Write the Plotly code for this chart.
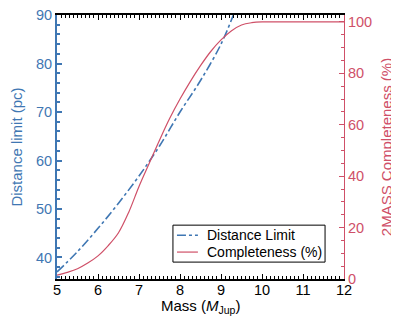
import plotly.graph_objects as go

mass_d = [5.0, 5.5, 6.0, 6.5, 7.0, 7.5, 8.0, 8.5, 9.0, 9.3]
dist = [37.0, 41.2, 46.0, 51.2, 56.8, 63.0, 70.0, 76.5, 84.0, 90.0]

mass_c = [5.0, 5.25, 5.5, 5.75, 6.0, 6.25, 6.5, 6.75, 7.0, 7.25, 7.5, 7.75, 8.0, 8.25, 8.5, 8.75, 9.0, 9.25, 9.5, 9.75, 10.0, 10.5, 11.0, 11.5, 12.0]
comp = [1.5, 2.6, 4.0, 6.2, 9.0, 13.0, 18.0, 26.0, 36.0, 45.0, 54.0, 62.5, 70.0, 76.8, 83.0, 88.5, 93.0, 96.5, 98.8, 99.7, 100.0, 100.0, 100.0, 100.0, 100.0]

names = ["Distance Limit", "Completeness (%)"]

BLUE = "#3f77b3"
RED = "#cf5068"
FONT = "Liberation Sans, Arial, sans-serif"

fig = go.Figure()
fig.add_trace(go.Scatter(x=mass_d, y=dist, mode="lines", name=names[0], showlegend=False,
                         line=dict(color=BLUE, width=1.6, dash="dashdot", shape="spline"), yaxis="y"))
fig.add_trace(go.Scatter(x=mass_c, y=comp, mode="lines", name=names[1], showlegend=False,
                         line=dict(color=RED, width=1.2, shape="spline"), yaxis="y2"))

# legend box drawn in paper coordinates
fig.add_shape(type="rect", xref="paper", yref="paper", x0=0.404, x1=0.934, y0=0.064, y1=0.204,
              line=dict(color="black", width=1), fillcolor="white", layer="above")
fig.add_shape(type="line", xref="paper", yref="paper", x0=0.418, x1=0.491, y0=0.166, y1=0.166,
              line=dict(color=BLUE, width=1.6, dash="dashdot"), layer="above")
fig.add_shape(type="line", xref="paper", yref="paper", x0=0.418, x1=0.491, y0=0.102, y1=0.102,
              line=dict(color=RED, width=1.2), layer="above")
for yy, nm in zip([0.166, 0.102], names):
    fig.add_annotation(xref="paper", yref="paper", x=0.516, y=yy, text=nm, showarrow=False,
                       xanchor="left", yanchor="middle", font=dict(size=14, family=FONT, color="black"))

fig.add_annotation(xref="paper", yref="paper", x=0.5, y=-0.062, text="Mass (<i>M</i><sub>Jup</sub>)",
                   showarrow=False, xanchor="center", yanchor="top",
                   font=dict(size=15, family=FONT, color="black"))

fig.update_layout(
    template="none",
    width=391, height=311,
    margin=dict(l=49, r=55, t=7, b=40, autoexpand=False),
    paper_bgcolor="white", plot_bgcolor="white",
    font=dict(family=FONT, size=14, color="black"),
    showlegend=False,
    xaxis=dict(range=[5, 12], dtick=1, showgrid=False, zeroline=False, automargin=False,
               showline=True, linecolor="black", linewidth=1.5, mirror="ticks",
               ticks="inside", ticklen=5, tickcolor="black", tickwidth=1,
               minor=dict(dtick=0.1, ticks="inside", ticklen=3, tickcolor="black", showgrid=False),
               ticklabeloverflow="allow", ticklabelstandoff=-3,
               tickfont=dict(size=14.5, color="black")),
    yaxis=dict(range=[35.55, 90.02], dtick=10, showgrid=False, zeroline=False, automargin=False,
               showline=True, linecolor=BLUE, linewidth=2,
               ticks="inside", ticklen=5, tickcolor=BLUE, tickwidth=1.5,
               minor=dict(dtick=2, ticks="inside", ticklen=3, tickcolor=BLUE, showgrid=False),
               ticklabeloverflow="allow",
               tickfont=dict(size=14.5, color=BLUE),
               title=dict(text="Distance limit (pc)", font=dict(size=15, color=BLUE), standoff=10)),
    yaxis2=dict(range=[0, 102.7], dtick=20, overlaying="y", side="right", automargin=False,
                showgrid=False, zeroline=False,
                showline=True, linecolor=RED, linewidth=1,
                ticks="inside", ticklen=5, tickcolor=RED, tickwidth=1,
                minor=dict(dtick=5, ticks="inside", ticklen=3, tickcolor=RED, showgrid=False),
                ticklabeloverflow="allow",
                tickfont=dict(size=14.5, color=RED),
                title=dict(text="2MASS Completeness (%)", font=dict(size=15, color=RED), standoff=10)),
)

fig.write_html("out.html")
